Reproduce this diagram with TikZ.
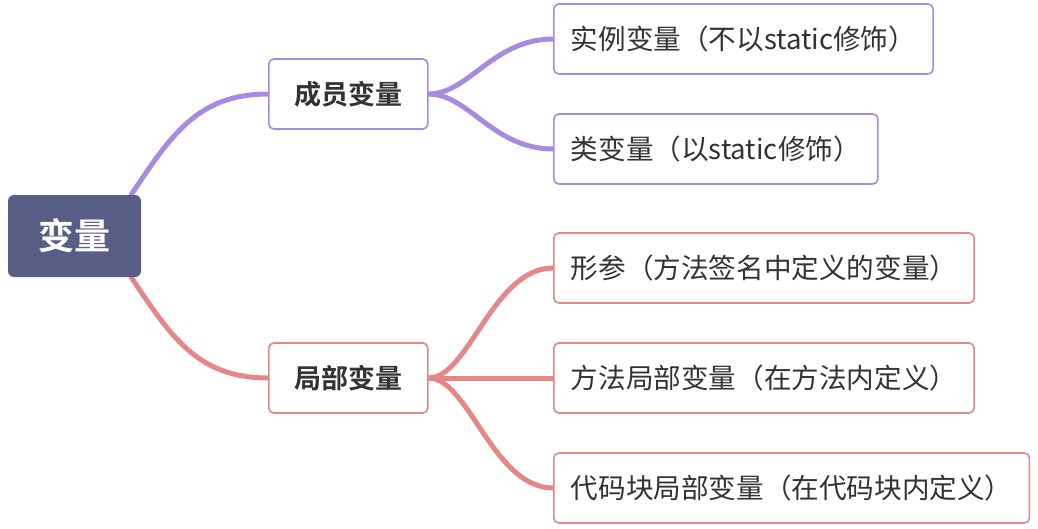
\documentclass[tikz,border=0pt]{standalone}
\usepackage{fontspec}
\setmainfont{Noto Sans CJK SC}[BoldFont={Noto Sans CJK SC Bold}]
\usetikzlibrary{backgrounds}
\definecolor{rootfill}{HTML}{585E85}
\definecolor{purp}{HTML}{A68BE0}
\definecolor{rosy}{HTML}{E58787}
\definecolor{ink}{HTML}{333333}

\begin{document}
\begin{tikzpicture}[x=1pt, y=-1pt, font=\fontsize{27.6}{30}\selectfont, text=ink]
\tikzstyle{box}=[draw, line width=1.6pt, rounded corners=5pt, fill=white, minimum height=70pt, inner xsep=17pt, anchor=west]
\tikzstyle{mid}=[box, font=\fontsize{27}{30}\selectfont\bfseries, minimum width=159pt]
\tikzstyle{leaf}=[box]
\tikzstyle{pbox}=[draw=purp]
\tikzstyle{rbox}=[draw=rosy]
\tikzstyle{branch}=[line width=5pt, line cap=round]
\useasboundingbox (0,0) rectangle (1038,528);
\node[fill=rootfill, rounded corners=6pt, minimum width=133pt, minimum height=82pt, text=white, font=\fontsize{36}{40}\selectfont\bfseries] (root) at (74.5,236) {变量};
\node[mid, pbox] (mem) at (268,94) {成员变量};
\node[mid, rbox] (loc) at (268,378) {局部变量};
\node[leaf, pbox] (inst) at (553,39) {实例变量（不以static修饰）};
\node[leaf, pbox] (cls) at (553,149) {类变量（以static修饰）};
\node[leaf, rbox] (param) at (553,268) {形参（方法签名中定义的变量）};
\node[leaf, rbox] (meth) at (553,378) {方法局部变量（在方法内定义）};
\node[leaf, rbox] (blk) at (553,488) {代码块局部变量（在代码块内定义）};
\begin{scope}[on background layer]
\draw[branch, purp] ([xshift=-10pt]root.north east) .. controls +(40,-60) and +(-70,0) .. (mem.west);
\draw[branch, rosy] ([xshift=-10pt]root.south east) .. controls +(40,60) and +(-70,0) .. (loc.west);
\draw[branch, purp] (mem.east) .. controls +(40,0) and +(-60,0) .. (inst.west);
\draw[branch, purp] (mem.east) .. controls +(40,0) and +(-60,0) .. (cls.west);
\draw[branch, rosy] (loc.east) .. controls +(40,0) and +(-60,0) .. (param.west);
\draw[branch, rosy] (loc.east) -- (meth.west);
\draw[branch, rosy] (loc.east) .. controls +(40,0) and +(-60,0) .. (blk.west);
\end{scope}
\end{tikzpicture}
\end{document}
